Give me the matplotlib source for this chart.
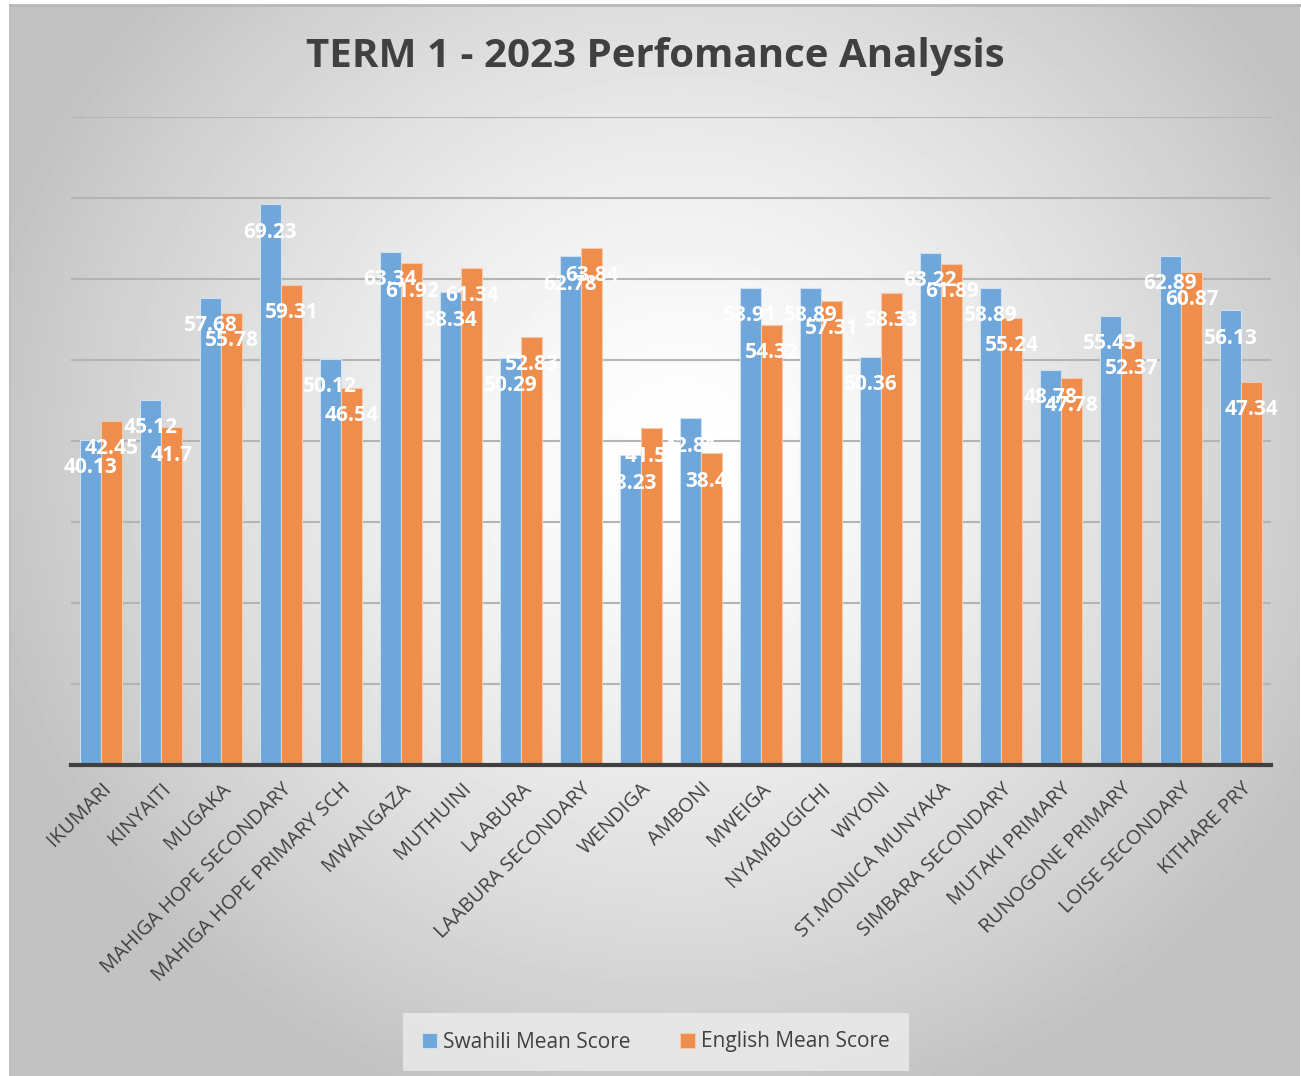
import matplotlib.pyplot as plt
import numpy as np

schools = ["IKUMARI", "KINYAITI", "MUGAKA", "MAHIGA HOPE SECONDARY",
           "MAHIGA HOPE PRIMARY SCH", "MWANGAZA", "MUTHUINI", "LAABURA",
           "LAABURA SECONDARY", "WENDIGA", "AMBONI", "MWEIGA", "NYAMBUGICHI",
           "WIYONI", "ST.MONICA MUNYAKA", "SIMBARA SECONDARY", "MUTAKI PRIMARY",
           "RUNOGONE PRIMARY", "LOISE SECONDARY", "KITHARE PRY"]
swahili = [40.13, 45.12, 57.68, 69.23, 50.12, 63.34, 58.34, 50.29, 62.78, 38.23,
           42.81, 58.91, 58.89, 50.36, 63.22, 58.89, 48.78, 55.43, 62.89, 56.13]
english = [42.45, 41.7, 55.78, 59.31, 46.54, 61.92, 61.34, 52.83, 63.84, 41.56,
           38.47, 54.32, 57.31, 58.33, 61.89, 55.24, 47.78, 52.37, 60.87, 47.34]

W, H = 1301, 1076
fig = plt.figure(figsize=(W / 100, H / 100), dpi=100)
fig.patch.set_facecolor("white")

# radial grey gradient background
bg = fig.add_axes([10 / W, 0, 1290 / W, 1071 / H])
yy, xx = np.mgrid[0:1:300j, 0:1:360j]
d = np.sqrt(((xx - 0.52) * 1.15) ** 2 + ((yy - 0.42) * 1.0) ** 2)
shade = np.clip(1 - 0.3 * (d / 0.75) ** 1.4, 0.76, 1)
bg.imshow(shade, cmap="gray", vmin=0, vmax=1, aspect="auto", extent=[0, 1, 0, 1], origin="upper")
bg.set_xticks([])
bg.set_yticks([])
for s in bg.spines.values():
    s.set_visible(False)
bg.spines["top"].set_visible(True)
bg.spines["top"].set_color("#b8b8b8")
bg.spines["top"].set_linewidth(2)
bg.spines["left"].set_visible(True)
bg.spines["left"].set_color("#c0c0c0")
bg.spines["left"].set_linewidth(1.5)

ax = fig.add_axes([71 / W, 1 - 765 / H, 1200 / W, (765 - 117) / H])
ax.set_facecolor("none")
x = np.arange(len(schools))
bw = 0.355
blue = "#6fa7da"
orange = "#ef8d4c"
b1 = ax.bar(x - bw / 2, swahili, bw, color=blue, edgecolor="#cfe0f2", linewidth=0.8, zorder=3,
            label="Swahili Mean Score")
b2 = ax.bar(x + bw / 2, english, bw, color=orange, edgecolor="#f6c9a8", linewidth=0.8, zorder=3,
            label="English Mean Score")

for bars, vals in ((b1, swahili), (b2, english)):
    for r, v in zip(bars, vals):
        ax.annotate(f"{v:g}", (r.get_x() + r.get_width() / 2, v), xytext=(0, -20),
                    textcoords="offset points", ha="center", va="center", color="white",
                    fontsize=15, fontweight="bold", family="Open Sans", zorder=5)

ax.set_ylim(0, 80)
ax.set_xlim(-0.5, len(schools) - 0.5)
ax.set_yticks(np.arange(10, 81, 10))
ax.yaxis.grid(True, color="#b4b4b4", linewidth=1.5, zorder=0)
ax.tick_params(axis="y", left=False, labelleft=False)
ax.tick_params(axis="x", length=0, pad=10)
ax.set_xticks(x)
ax.set_xticklabels(schools, rotation=45, ha="right", rotation_mode="anchor",
                   fontsize=14.5, color="#404040", family="Open Sans")
for s in ("top", "left", "right"):
    ax.spines[s].set_visible(False)
ax.spines["bottom"].set_color("#404040")
ax.spines["bottom"].set_linewidth(3)
ax.spines["bottom"].set_zorder(4)

fig.text(655 / W, 1 - 57 / H, "TERM 1 - 2023 Perfomance Analysis", ha="center", va="center",
         fontsize=29, fontweight="bold", color="#404040", family="Open Sans")

leg = fig.legend(handles=[b1, b2], loc="center", bbox_to_anchor=(656 / W, 1 - 1042 / H),
                 ncol=2, frameon=True, handlelength=0.7, handleheight=0.7,
                 handletextpad=0.3, columnspacing=2.4, prop={"family": "Open Sans", "size": 15})
leg.get_frame().set_facecolor("#ececec")
leg.get_frame().set_edgecolor("none")
leg.get_frame().set_boxstyle("square", pad=0.5)
for t in leg.get_texts():
    t.set_color("#404040")

fig.savefig("out.png", dpi=100)
